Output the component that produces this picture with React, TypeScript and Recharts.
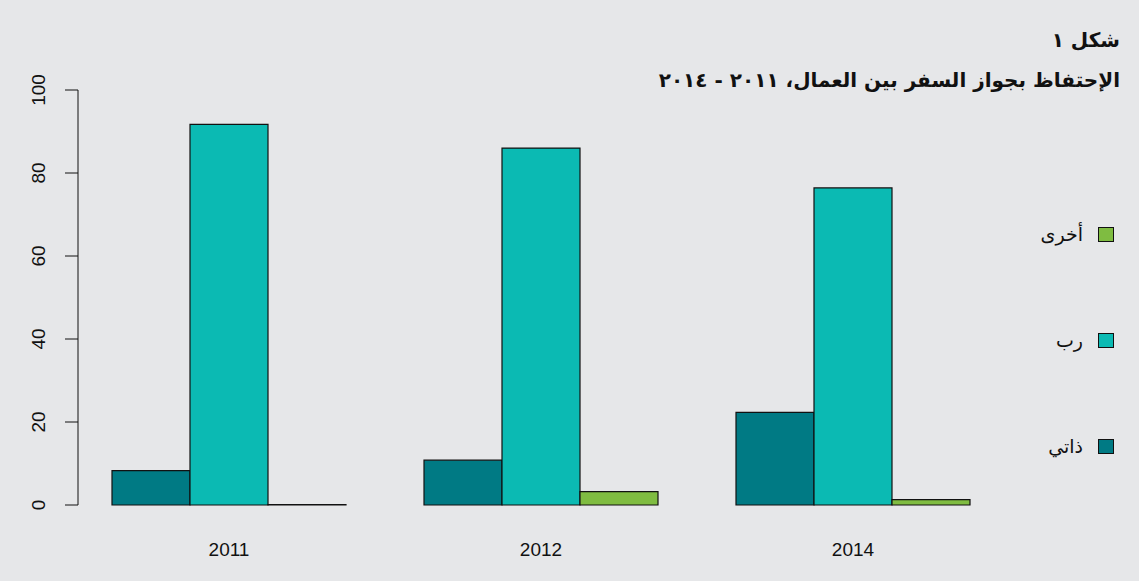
import { BarChart, Bar, XAxis, YAxis } from "recharts";

const YEARS = ["2011", "2012", "2014"];
const SELF = [8.3, 10.8, 22.3];
const EMPLOYER = [91.7, 86.0, 76.4];
const OTHER = [0.1, 3.2, 1.3];
const Y_TICKS = [0, 20, 40, 60, 80, 100];

const SERIES = [
  { key: "self", name: "ذاتي", color: "#007a84" },
  { key: "employer", name: "رب", color: "#0bbab3" },
  { key: "other", name: "أخرى", color: "#7fbc41" },
];

const data = YEARS.map((year, i) => ({
  year,
  self: SELF[i],
  employer: EMPLOYER[i],
  other: OTHER[i],
}));

const NUM_FONT = "'Liberation Sans', Arial, sans-serif";
const AR_FONT = "'DejaVu Sans', sans-serif";

function XTick({ x, y, payload }: any) {
  return (
    <text
      x={x}
      y={y}
      dy={51}
      textAnchor="middle"
      fontFamily={NUM_FONT}
      fontSize={19}
      fill="#111"
    >
      {payload.value}
    </text>
  );
}

function YTick({ y, payload }: any) {
  return (
    <g>
      <line x1={65} x2={78} y1={y} y2={y} stroke="#111" />
      <text
        transform={`translate(45 ${y}) rotate(-90)`}
        textAnchor="middle"
        fontFamily={NUM_FONT}
        fontSize={19}
        fill="#111"
      >
        {payload.value}
      </text>
    </g>
  );
}

// legend drawn by hand, top item is the last series (as in the original)
function LegendBox() {
  const items = [...SERIES].reverse();
  return (
    <div style={{ position: "absolute", left: 998, top: 224, width: 140 }}>
      {items.map((item, i) => (
        <div
          key={item.key}
          style={{
            position: "absolute",
            right: 24,
            top: i * 106,
            height: 20,
            display: "flex",
            alignItems: "center",
            gap: 15,
            fontFamily: AR_FONT,
            fontSize: 19,
            color: "#111",
            direction: "rtl",
            whiteSpace: "nowrap",
          }}
        >
          <span
            style={{
              width: 14,
              height: 13,
              background: item.color,
              border: "1px solid #111",
              display: "inline-block",
            }}
          />
          <span>{item.name}</span>
        </div>
      ))}
    </div>
  );
}

export default function App() {
  return (
    <div
      style={{
        position: "absolute",
        left: 0,
        top: 0,
        width: 1139,
        height: 581,
        background: "#e6e7e9",
      }}
    >
      <BarChart
        width={1139}
        height={581}
        data={data}
        margin={{ top: 90, right: 130, bottom: 0, left: 0 }}
        barCategoryGap={39}
        barGap={0}
        style={{ position: "absolute", left: 0, top: 0 }}
      >
        <XAxis
          dataKey="year"
          height={76}
          axisLine={false}
          tickLine={false}
          tickSize={0}
          tickMargin={0}
          padding={{ left: -5, right: 0 }}
          tick={<XTick />}
        />
        <YAxis
          width={78}
          domain={[0, 100]}
          ticks={Y_TICKS}
          axisLine={{ stroke: "#111" }}
          tickLine={false}
          tick={<YTick />}
        />
        {SERIES.map((s) => (
          <Bar
            key={s.key}
            dataKey={s.key}
            name={s.name}
            fill={s.color}
            stroke="#111"
            strokeWidth={1.2}
            isAnimationActive={false}
          />
        ))}
      </BarChart>
      <div
        style={{
          position: "absolute",
          right: 19,
          top: 20,
          direction: "rtl",
          fontFamily: AR_FONT,
          fontWeight: "bold",
          fontSize: 20,
          color: "#111",
          lineHeight: "40px",
          textAlign: "right",
          whiteSpace: "nowrap",
        }}
      >
        <div>شكل ١</div>
        <div>الإحتفاظ بجواز السفر بين العمال، ٢٠١١ - ٢٠١٤</div>
      </div>
      <LegendBox />
    </div>
  );
}
